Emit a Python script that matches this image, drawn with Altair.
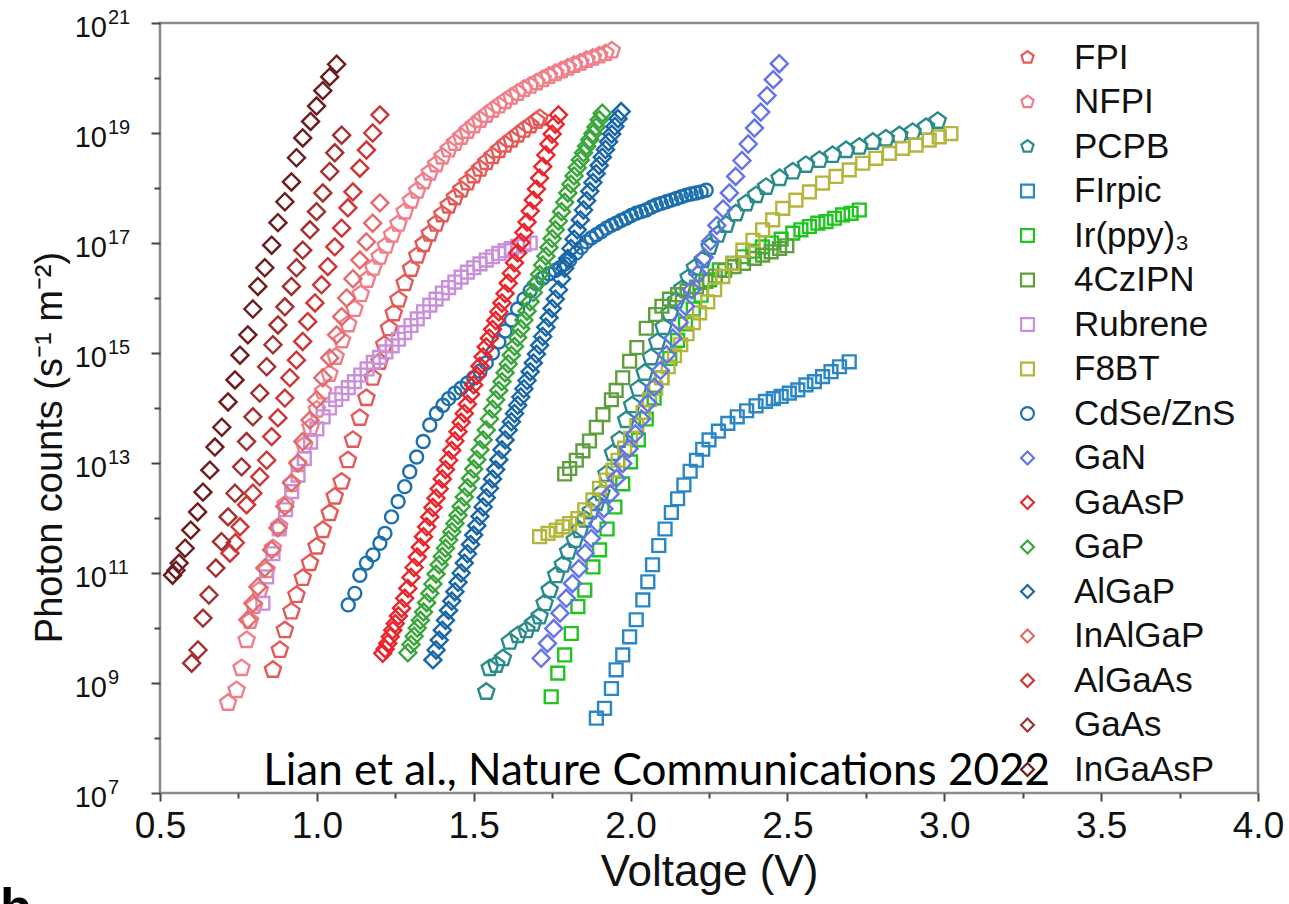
import altair as alt
import pandas as pd

# Photon output versus drive voltage for organic, quantum-dot and III-V emitters.
# Each series: voltages (V) and log10 of photon counts (s^-1 m^-2).

names = ["FPI", "NFPI", "PCPB", "FIrpic", "Ir(ppy)₃", "4CzIPN", "Rubrene", "F8BT",
         "CdSe/ZnS", "GaN", "GaAsP", "GaP", "AlGaP", "InAlGaP", "AlGaAs", "GaAs", "InGaAsP"]

colors = ["#e35a57", "#f07f8a", "#2a8b8b", "#2b86c6", "#1fc41f", "#5f9e3c", "#c98fd8", "#b4b53a",
          "#1c6fae", "#6373e8", "#e8262b", "#3aa53a", "#1866a6", "#e46b6b", "#cc3636", "#a23030", "#6b1d1d"]

kinds = ["pentagon", "pentagon", "pentagon", "square", "square", "square", "square", "square",
         "circle", "diamond", "diamond", "diamond", "diamond", "diamond", "diamond", "diamond", "diamond"]

v_fpi = [0.860, 0.882, 0.898, 0.919, 0.935, 0.955, 0.978, 0.999, 1.019, 1.041,
         1.057, 1.079, 1.099, 1.115, 1.137, 1.158, 1.178, 1.200, 1.215, 1.230,
         1.245, 1.260, 1.280, 1.300, 1.320, 1.340, 1.360, 1.380, 1.400, 1.420,
         1.440, 1.460, 1.480, 1.500, 1.520, 1.540, 1.560, 1.580, 1.600, 1.620,
         1.640, 1.660, 1.680, 1.700, 1.710]
lg_fpi = [9.24, 9.60, 9.96, 10.30, 10.60, 10.91, 11.18, 11.48, 11.78, 12.09,
          12.39, 12.66, 13.05, 13.42, 13.82, 14.18, 14.55, 14.84, 15.15, 15.45,
          15.72, 15.97, 16.27, 16.53, 16.77, 16.98, 17.17, 17.35, 17.52, 17.68,
          17.83, 17.97, 18.10, 18.23, 18.35, 18.47, 18.58, 18.69, 18.79, 18.88,
          18.97, 19.06, 19.14, 19.22, 19.27]

v_nfpi = [0.717, 0.744, 0.760, 0.776, 0.787, 0.800, 0.818, 0.840, 0.860, 0.880,
          0.900, 0.920, 0.940, 0.960, 0.980, 1.000, 1.020, 1.040, 1.060, 1.080,
          1.100, 1.120, 1.140, 1.160, 1.180, 1.200, 1.220, 1.240, 1.260, 1.280,
          1.300, 1.320, 1.340, 1.360, 1.380, 1.400, 1.420, 1.440, 1.460, 1.480,
          1.500, 1.520, 1.540, 1.560, 1.580, 1.600, 1.620, 1.640, 1.660, 1.680,
          1.700, 1.720, 1.740, 1.760, 1.780, 1.800, 1.820, 1.840, 1.860, 1.880,
          1.900, 1.920, 1.940]
lg_nfpi = [8.64, 8.87, 9.27, 9.78, 10.13, 10.40, 10.69, 11.05, 11.45, 11.85,
           12.25, 12.62, 12.98, 13.32, 13.65, 13.97, 14.30, 14.62, 14.93, 15.23,
           15.52, 15.80, 16.07, 16.33, 16.55, 16.75, 16.95, 17.15, 17.35, 17.57,
           17.77, 17.95, 18.12, 18.28, 18.43, 18.57, 18.70, 18.82, 18.93, 19.04,
           19.14, 19.24, 19.33, 19.42, 19.50, 19.58, 19.66, 19.73, 19.80, 19.86,
           19.92, 19.98, 20.04, 20.09, 20.14, 20.19, 20.24, 20.28, 20.33, 20.37,
           20.41, 20.45, 20.50]

v_pcpb = [1.540, 1.551, 1.572, 1.593, 1.615, 1.641, 1.668, 1.689, 1.710, 1.726,
          1.742, 1.763, 1.784, 1.801, 1.822, 1.838, 1.855, 1.873, 1.891, 1.907,
          1.923, 1.944, 1.965, 1.986, 2.005, 2.025, 2.045, 2.065, 2.085, 2.105,
          2.125, 2.145, 2.165, 2.185, 2.205, 2.230, 2.252, 2.278, 2.305, 2.336,
          2.368, 2.400, 2.432, 2.475, 2.517, 2.559, 2.602, 2.644, 2.687, 2.729,
          2.772, 2.814, 2.857, 2.899, 2.942, 2.979]
lg_pcpb = [8.84, 9.27, 9.33, 9.45, 9.75, 9.87, 9.96, 10.08, 10.21, 10.45,
           10.69, 10.96, 11.15, 11.39, 11.60, 11.78, 11.97, 12.12, 12.27, 12.45,
           12.80, 13.18, 13.42, 13.78, 14.05, 14.35, 14.64, 14.92, 15.20, 15.47,
           15.72, 15.95, 16.17, 16.37, 16.55, 16.69, 16.93, 17.15, 17.33, 17.54,
           17.72, 17.87, 18.02, 18.18, 18.30, 18.42, 18.51, 18.60, 18.69, 18.75,
           18.84, 18.90, 18.96, 19.02, 19.11, 19.22]

v_firpic = [1.891, 1.917, 1.939, 1.954, 1.975, 1.997, 2.018, 2.039, 2.055, 2.070,
            2.090, 2.110, 2.130, 2.150, 2.170, 2.190, 2.210, 2.230, 2.250, 2.280,
            2.310, 2.340, 2.370, 2.400, 2.430, 2.455, 2.480, 2.506, 2.533, 2.559,
            2.586, 2.612, 2.639, 2.666, 2.697]
lg_firpic = [8.36, 8.54, 8.90, 9.24, 9.51, 9.84, 10.15, 10.51, 10.84, 11.15,
             11.50, 11.80, 12.10, 12.35, 12.60, 12.85, 13.05, 13.25, 13.42, 13.58,
             13.72, 13.84, 13.95, 14.04, 14.12, 14.17, 14.21, 14.27, 14.33, 14.42,
             14.48, 14.57, 14.66, 14.75, 14.84]

v_irppy = [1.747, 1.768, 1.790, 1.811, 1.832, 1.854, 1.880, 1.901, 1.925, 1.950,
           1.975, 2.000, 2.025, 2.050, 2.075, 2.100, 2.125, 2.150, 2.175, 2.200,
           2.225, 2.252, 2.283, 2.326, 2.358, 2.390, 2.420, 2.450, 2.480, 2.517,
           2.543, 2.570, 2.597, 2.623, 2.650, 2.676, 2.703, 2.729]
lg_irppy = [8.75, 9.18, 9.51, 9.90, 10.39, 10.69, 11.11, 11.42, 11.80, 12.20,
            12.62, 13.02, 13.42, 13.80, 14.18, 14.55, 14.90, 15.23, 15.53, 15.80,
            16.05, 16.33, 16.51, 16.63, 16.75, 16.85, 16.93, 17.00, 17.07, 17.18,
            17.24, 17.30, 17.36, 17.39, 17.45, 17.51, 17.54, 17.60]

v_4czipn = [1.790, 1.806, 1.827, 1.848, 1.869, 1.891, 1.912, 1.939, 1.954, 1.975,
            1.997, 2.020, 2.050, 2.080, 2.100, 2.124, 2.150, 2.180, 2.210, 2.240,
            2.270, 2.300, 2.330, 2.360, 2.395, 2.421, 2.448, 2.475, 2.498]
lg_4czipn = [12.80, 12.90, 13.05, 13.22, 13.40, 13.65, 13.88, 14.15, 14.32, 14.55,
             14.85, 15.10, 15.45, 15.70, 15.85, 15.98, 16.06, 16.13, 16.20, 16.30,
             16.40, 16.50, 16.57, 16.63, 16.72, 16.78, 16.84, 16.90, 16.95]

v_rubrene = [0.828, 0.840, 0.860, 0.880, 0.900, 0.920, 0.940, 0.960, 0.980, 1.000,
             1.020, 1.040, 1.060, 1.080, 1.100, 1.120, 1.140, 1.160, 1.180, 1.200,
             1.220, 1.240, 1.260, 1.280, 1.300, 1.320, 1.340, 1.360, 1.380, 1.400,
             1.420, 1.440, 1.460, 1.480, 1.500, 1.520, 1.540, 1.560, 1.580, 1.600,
             1.620, 1.640, 1.660, 1.680]
lg_rubrene = [10.45, 10.93, 11.35, 11.80, 12.15, 12.48, 12.78, 13.08, 13.38, 13.62,
              13.84, 14.00, 14.15, 14.26, 14.37, 14.48, 14.60, 14.71, 14.83, 14.92,
              15.02, 15.13, 15.25, 15.37, 15.50, 15.62, 15.75, 15.87, 15.98, 16.09,
              16.19, 16.29, 16.38, 16.47, 16.55, 16.62, 16.69, 16.75, 16.81, 16.86,
              16.90, 16.94, 16.97, 17.00]

v_f8bt = [1.710, 1.737, 1.763, 1.784, 1.806, 1.832, 1.854, 1.880, 1.901, 1.923,
          1.944, 1.960, 1.981, 2.000, 2.020, 2.040, 2.060, 2.080, 2.100, 2.120,
          2.140, 2.160, 2.180, 2.200, 2.220, 2.246, 2.268, 2.294, 2.326, 2.358,
          2.390, 2.421, 2.453, 2.485, 2.527, 2.570, 2.612, 2.655, 2.697, 2.740,
          2.782, 2.825, 2.867, 2.910, 2.952, 2.984, 3.021]
lg_f8bt = [11.66, 11.72, 11.78, 11.84, 11.90, 11.99, 12.15, 12.33, 12.54, 12.69,
           12.87, 13.05, 13.27, 13.45, 13.68, 13.92, 14.15, 14.36, 14.55, 14.75,
           14.95, 15.15, 15.35, 15.55, 15.73, 15.93, 16.15, 16.39, 16.63, 16.87,
           17.05, 17.24, 17.42, 17.63, 17.78, 17.93, 18.09, 18.21, 18.33, 18.45,
           18.54, 18.63, 18.72, 18.78, 18.87, 18.93, 18.99]

v_cdse = [1.100, 1.121, 1.137, 1.158, 1.179, 1.201, 1.217, 1.238, 1.259, 1.280,
          1.296, 1.318, 1.339, 1.360, 1.381, 1.402, 1.420, 1.440, 1.460, 1.480,
          1.500, 1.520, 1.540, 1.560, 1.580, 1.600, 1.620, 1.640, 1.660, 1.680,
          1.700, 1.720, 1.740, 1.760, 1.775, 1.790, 1.806, 1.827, 1.843, 1.859,
          1.875, 1.891, 1.907, 1.923, 1.939, 1.954, 1.970, 1.986, 2.002, 2.018,
          2.034, 2.050, 2.066, 2.082, 2.098, 2.114, 2.130, 2.146, 2.162, 2.177,
          2.193, 2.209, 2.225, 2.241]
lg_cdse = [10.42, 10.63, 10.96, 11.18, 11.33, 11.54, 11.72, 12.02, 12.30, 12.57,
           12.84, 13.11, 13.39, 13.69, 13.90, 14.05, 14.17, 14.27, 14.36, 14.45,
           14.55, 14.67, 14.82, 15.00, 15.20, 15.40, 15.60, 15.80, 15.98, 16.13,
           16.26, 16.36, 16.44, 16.50, 16.55, 16.62, 16.69, 16.82, 16.92, 17.02,
           17.09, 17.15, 17.21, 17.27, 17.32, 17.36, 17.41, 17.45, 17.50, 17.54,
           17.57, 17.60, 17.65, 17.69, 17.72, 17.75, 17.78, 17.81, 17.84, 17.87,
           17.89, 17.91, 17.93, 17.96]

v_gan = [1.715, 1.735, 1.755, 1.775, 1.795, 1.815, 1.835, 1.855, 1.875, 1.895,
         1.915, 1.935, 1.955, 1.975, 1.995, 2.015, 2.035, 2.055, 2.075, 2.095,
         2.115, 2.135, 2.155, 2.175, 2.195, 2.215, 2.235, 2.255, 2.275, 2.295,
         2.315, 2.335, 2.355, 2.375, 2.395, 2.415, 2.435, 2.455, 2.474]
lg_gan = [9.45, 9.72, 9.99, 10.27, 10.54, 10.81, 11.08, 11.36, 11.63, 11.90,
          12.17, 12.44, 12.72, 12.99, 13.26, 13.53, 13.80, 14.09, 14.38, 14.68,
          14.97, 15.27, 15.56, 15.85, 16.15, 16.44, 16.74, 17.03, 17.32, 17.62,
          17.91, 18.21, 18.50, 18.80, 19.09, 19.38, 19.68, 19.97, 20.26]

v_gaasp = [1.210, 1.218, 1.226, 1.234, 1.242, 1.250, 1.260, 1.270, 1.280, 1.290,
           1.300, 1.310, 1.320, 1.330, 1.340, 1.350, 1.360, 1.370, 1.380, 1.390,
           1.400, 1.410, 1.420, 1.430, 1.440, 1.450, 1.460, 1.470, 1.480, 1.490,
           1.500, 1.510, 1.520, 1.530, 1.540, 1.550, 1.560, 1.570, 1.580, 1.590,
           1.600, 1.610, 1.620, 1.630, 1.640, 1.650, 1.660, 1.670, 1.680, 1.690,
           1.700, 1.710, 1.720, 1.730, 1.740, 1.750, 1.760, 1.770]
lg_gaasp = [9.54, 9.62, 9.72, 9.84, 9.96, 10.08, 10.22, 10.36, 10.54, 10.72,
            10.92, 11.10, 11.29, 11.47, 11.66, 11.84, 12.02, 12.19, 12.36, 12.53,
            12.71, 12.88, 13.05, 13.23, 13.40, 13.57, 13.74, 13.90, 14.07, 14.25,
            14.42, 14.59, 14.76, 14.93, 15.11, 15.27, 15.43, 15.59, 15.75, 15.91,
            16.08, 16.27, 16.45, 16.64, 16.82, 17.01, 17.19, 17.38, 17.58, 17.78,
            17.98, 18.18, 18.39, 18.60, 18.80, 18.98, 19.16, 19.33]

v_gap = [1.29, 1.30, 1.31, 1.32, 1.33, 1.34, 1.35, 1.36, 1.37, 1.38,
         1.39, 1.40, 1.41, 1.42, 1.43, 1.44, 1.45, 1.46, 1.47, 1.48,
         1.49, 1.50, 1.51, 1.52, 1.53, 1.54, 1.55, 1.56, 1.57, 1.58,
         1.59, 1.60, 1.61, 1.62, 1.63, 1.64, 1.65, 1.66, 1.67, 1.68,
         1.69, 1.70, 1.71, 1.72, 1.73, 1.74, 1.75, 1.76, 1.77, 1.78,
         1.79, 1.80, 1.81, 1.82, 1.83, 1.84, 1.85, 1.86, 1.87, 1.88,
         1.89, 1.90, 1.91]
lg_gap = [9.55, 9.70, 9.85, 10.00, 10.14, 10.29, 10.46, 10.63, 10.80, 10.98,
          11.15, 11.30, 11.45, 11.60, 11.75, 11.90, 12.05, 12.21, 12.38, 12.55,
          12.72, 12.89, 13.06, 13.24, 13.42, 13.60, 13.80, 13.98, 14.15, 14.32,
          14.48, 14.64, 14.80, 14.96, 15.12, 15.28, 15.44, 15.60, 15.76, 15.93,
          16.10, 16.27, 16.43, 16.60, 16.76, 16.92, 17.08, 17.24, 17.40, 17.57,
          17.74, 17.91, 18.07, 18.22, 18.37, 18.51, 18.64, 18.76, 18.88, 18.99,
          19.11, 19.24, 19.36]

v_algap = [1.37, 1.38, 1.39, 1.40, 1.41, 1.42, 1.43, 1.44, 1.45, 1.46,
           1.47, 1.48, 1.49, 1.50, 1.51, 1.52, 1.53, 1.54, 1.55, 1.56,
           1.57, 1.58, 1.59, 1.60, 1.61, 1.62, 1.63, 1.64, 1.65, 1.66,
           1.67, 1.68, 1.69, 1.70, 1.71, 1.72, 1.73, 1.74, 1.75, 1.76,
           1.77, 1.78, 1.79, 1.80, 1.81, 1.82, 1.83, 1.84, 1.85, 1.86,
           1.87, 1.88, 1.89, 1.90, 1.91, 1.92, 1.93, 1.94, 1.95, 1.96,
           1.97]
lg_algap = [9.42, 9.60, 9.78, 9.96, 10.14, 10.32, 10.49, 10.66, 10.83, 11.00,
            11.18, 11.35, 11.52, 11.69, 11.86, 12.03, 12.20, 12.37, 12.54, 12.71,
            12.88, 13.06, 13.24, 13.42, 13.60, 13.75, 13.90, 14.05, 14.20, 14.35,
            14.50, 14.66, 14.82, 14.98, 15.14, 15.30, 15.47, 15.64, 15.81, 15.98,
            16.15, 16.35, 16.54, 16.72, 16.90, 17.07, 17.24, 17.42, 17.60, 17.77,
            17.94, 18.10, 18.26, 18.41, 18.56, 18.70, 18.84, 18.98, 19.12, 19.26,
            19.39]

v_inalgap = [0.780, 0.796, 0.812, 0.834, 0.856, 0.876, 0.898, 0.919, 0.939, 0.955,
             0.978, 0.999, 1.019, 1.041, 1.063, 1.079, 1.095, 1.115, 1.137, 1.158,
             1.178, 1.201]
lg_inalgap = [10.15, 10.45, 10.75, 11.09, 11.42, 11.82, 12.21, 12.64, 13.00, 13.39,
              13.78, 14.15, 14.55, 14.91, 15.33, 15.66, 16.00, 16.35, 16.69, 17.02,
              17.36, 17.73]

v_algaas = [0.723, 0.740, 0.755, 0.776, 0.796, 0.818, 0.840, 0.856, 0.876, 0.898,
            0.914, 0.935, 0.955, 0.971, 0.994, 1.015, 1.035, 1.057, 1.079, 1.099,
            1.115, 1.137, 1.158, 1.178, 1.201]
lg_algaas = [11.36, 11.55, 11.84, 12.24, 12.45, 12.75, 13.05, 13.48, 13.82, 14.18,
             14.55, 14.87, 15.21, 15.57, 15.91, 16.24, 16.57, 16.93, 17.27, 17.64,
             17.93, 18.36, 18.69, 19.00, 19.33]

v_gaas = [0.601, 0.621, 0.637, 0.656, 0.678, 0.696, 0.717, 0.739, 0.760, 0.776,
          0.796, 0.818, 0.840, 0.860, 0.876, 0.898, 0.919, 0.935, 0.955, 0.978,
          0.999, 1.019, 1.041, 1.057, 1.079]
lg_gaas = [9.36, 9.60, 10.18, 10.60, 11.09, 11.57, 12.02, 12.45, 12.93, 13.39,
           13.84, 14.27, 14.75, 15.15, 15.51, 15.84, 16.21, 16.55, 16.87, 17.24,
           17.57, 17.91, 18.30, 18.64, 18.96]

v_ingaasp = [0.540, 0.551, 0.561, 0.580, 0.598, 0.620, 0.637, 0.659, 0.675, 0.697,
             0.717, 0.739, 0.755, 0.780, 0.796, 0.812, 0.834, 0.856, 0.876, 0.898,
             0.919, 0.935, 0.955, 0.980, 0.999, 1.019, 1.041, 1.063]
lg_ingaasp = [10.96, 11.05, 11.18, 11.45, 11.78, 12.11, 12.47, 12.87, 13.29, 13.65,
              14.11, 14.51, 14.96, 15.33, 15.80, 16.21, 16.55, 16.96, 17.37, 17.75,
              18.11, 18.55, 18.91, 19.21, 19.49, 19.77, 20.02, 20.25]

volts = [v_fpi, v_nfpi, v_pcpb, v_firpic, v_irppy, v_4czipn, v_rubrene, v_f8bt, v_cdse,
         v_gan, v_gaasp, v_gap, v_algap, v_inalgap, v_algaas, v_gaas, v_ingaasp]
logs = [lg_fpi, lg_nfpi, lg_pcpb, lg_firpic, lg_irppy, lg_4czipn, lg_rubrene, lg_f8bt, lg_cdse,
        lg_gan, lg_gaasp, lg_gap, lg_algap, lg_inalgap, lg_algaas, lg_gaas, lg_ingaasp]

# axis ticks
x_major = [0.5, 1.0, 1.5, 2.0, 2.5, 3.0, 3.5, 4.0]
x_minor = [0.75, 1.25, 1.75, 2.25, 2.75, 3.25, 3.75]
y_exponents = [7, 9, 11, 13, 15, 17, 19, 21]
y_minor_exponents = [8, 10, 12, 14, 16, 18, 20]

note_text = "Lian et al., Nature Communications 2022"
note_volt = 2.083
note_log = 7.145

# marker outlines
PENTAGON = "M0,-1L0.951,-0.309L0.588,0.809L-0.588,0.809L-0.951,-0.309Z"
shape_of = {"pentagon": PENTAGON, "square": "square", "circle": "circle", "diamond": "diamond"}
area_of = {"pentagon": 290, "square": 165, "circle": 170, "diamond": 290}

rows = []
for name, kind, vs, ls in zip(names, kinds, volts, logs):
    assert len(vs) == len(ls), name
    for v, l in zip(vs, ls):
        rows.append({"series": name, "V": v, "count": 10 ** l, "msize": area_of[kind]})
df = pd.DataFrame(rows)

FONT = "Liberation Sans, Arial, Helvetica, sans-serif"

xscale = alt.Scale(domain=[0.5, 4.0], nice=False, zero=False)
yscale = alt.Scale(type="log", domain=[1e7, 1e21], nice=False)

legend = alt.Legend(
    title=None, orient="none", legendX=850, legendY=17, padding=0,
    labelFont=FONT, labelFontSize=35, labelColor="#111111", labelLimit=400,
    labelOffset=29, rowPadding=8.5, symbolSize=165, symbolStrokeWidth=2.2,
)

points = alt.Chart(df).mark_point(filled=False, strokeWidth=2.4, opacity=1).encode(
    x=alt.X("V:Q", scale=xscale, axis=alt.Axis(
        orient="bottom", values=x_major, format=".1f", labelFlush=False, labelOverlap=False,
        labelFont=FONT, labelFontSize=37, labelColor="#111111", labelPadding=7,
        tickSize=8, tickWidth=2, tickColor="#444444", domain=False, grid=False,
        title="Voltage (V)", titleFont=FONT, titleFontSize=44, titleFontWeight="normal",
        titleColor="#111111", titleBaseline="alphabetic", titleY=92)),
    y=alt.Y("count:Q", scale=yscale, axis=alt.Axis(
        orient="left", values=[10.0 ** e for e in y_exponents], labels=False,
        tickSize=9, tickWidth=2, tickColor="#444444", domain=False, grid=False,
        title="Photon counts (s⁻¹ m⁻²)", titleFont=FONT, titleFontSize=38,
        titleFontWeight="normal", titleColor="#111111", titleAngle=270,
        titleAlign="center", titleBaseline="alphabetic", titleX=-99, titleY=424)),
    color=alt.Color("series:N", scale=alt.Scale(domain=names, range=colors), legend=legend),
    shape=alt.Shape("series:N", scale=alt.Scale(domain=names, range=[shape_of[k] for k in kinds]),
                    legend=legend),
    size=alt.Size("msize:Q", scale=None, legend=None),
)

# citation note, which also carries the minor tick marks of both axes
note_df = pd.DataFrame({"V": [note_volt], "count": [10 ** note_log], "text": [note_text]})
note = alt.Chart(note_df).mark_text(
    font="Lato, Open Sans, sans-serif", fontSize=44, align="center", baseline="alphabetic",
    color="#000000"
).encode(
    x=alt.X("V:Q", scale=xscale, axis=alt.Axis(
        orient="bottom", values=x_minor, labels=False, tickSize=5, tickWidth=2,
        tickColor="#444444", domain=False, grid=False, title=None)),
    y=alt.Y("count:Q", scale=yscale, axis=alt.Axis(
        orient="left", values=[10.0 ** e for e in y_minor_exponents], labels=False,
        tickSize=6, tickWidth=2, tickColor="#444444", domain=False, grid=False, title=None)),
    text="text:N",
)

# y tick labels written as 10 with a raised exponent
ylab_df = pd.DataFrame({
    "pos": [10.0 ** e for e in y_exponents],
    "mant": ["10"] * len(y_exponents),
    "exp": [str(e) for e in y_exponents],
})
mantissa = alt.Chart(ylab_df).mark_text(
    font=FONT, fontSize=29, align="right", baseline="middle", dy=5, color="#111111"
).encode(x=alt.value(-53), y=alt.Y("pos:Q", scale=yscale, axis=None), text="mant:N")
exponent = alt.Chart(ylab_df).mark_text(
    font=FONT, fontSize=20, align="left", baseline="middle", dy=-5, color="#111111"
).encode(x=alt.value(-52), y=alt.Y("pos:Q", scale=yscale, axis=None), text="exp:N")

# start of the next panel letter at the page bottom
panel = alt.Chart(pd.DataFrame({"t": ["b"]})).mark_text(
    font=FONT, fontSize=52, fontWeight="bold", align="left", baseline="alphabetic", color="#000000"
).encode(x=alt.value(-160), y=alt.value(902), text="t:N")

chart = alt.layer(points, note, mantissa, exponent, panel).resolve_axis(
    x="independent", y="independent"
).properties(
    width=1098, height=770,
    padding={"left": 160, "top": 23, "right": 31, "bottom": 111},
    autosize=alt.AutoSizeParams(type="none"),
    background="white",
).configure_view(stroke="#8a8a8a", strokeWidth=2.5)

chart.save("out.html", embed_options={"renderer": "svg", "actions": False})
